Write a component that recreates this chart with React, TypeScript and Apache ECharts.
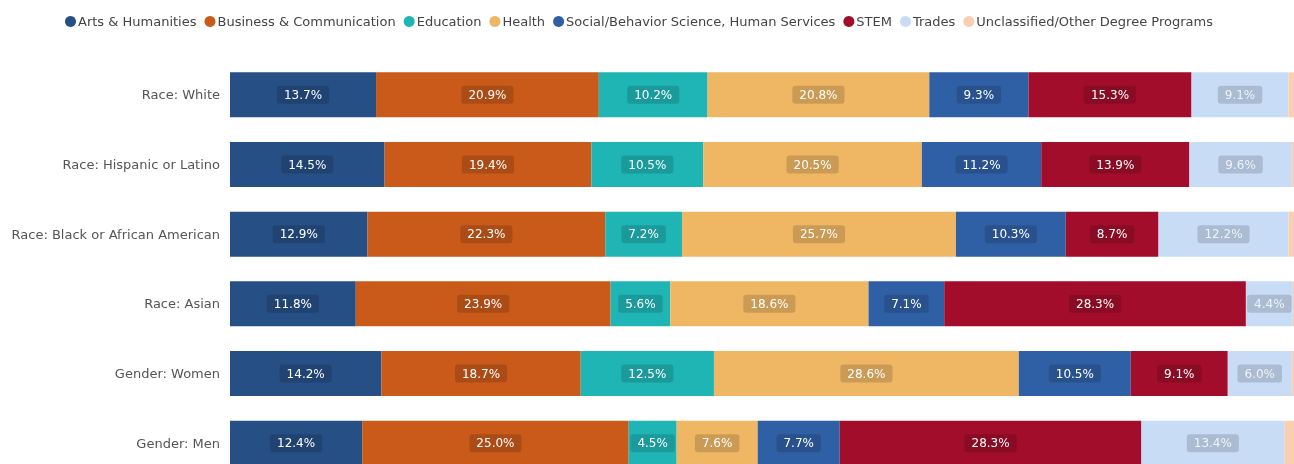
import React, { useEffect, useRef } from "react";
import * as echarts from "echarts";

const categories = [
  "Race: White",
  "Race: Hispanic or Latino",
  "Race: Black or African American",
  "Race: Asian",
  "Gender: Women",
  "Gender: Men",
];

const seriesNames = [
  "Arts & Humanities",
  "Business & Communication",
  "Education",
  "Health",
  "Social/Behavior Science, Human Services",
  "STEM",
  "Trades",
  "Unclassified/Other Degree Programs",
];

const artsHumanities = [13.7, 14.5, 12.9, 11.8, 14.2, 12.4];
const businessCommunication = [20.9, 19.4, 22.3, 23.9, 18.7, 25.0];
const education = [10.2, 10.5, 7.2, 5.6, 12.5, 4.5];
const health = [20.8, 20.5, 25.7, 18.6, 28.6, 7.6];
const socialBehavior = [9.3, 11.2, 10.3, 7.1, 10.5, 7.7];
const stem = [15.3, 13.9, 8.7, 28.3, 9.1, 28.3];
const trades = [9.1, 9.6, 12.2, 4.4, 6.0, 13.4];
const unclassified = [0.7, 0.4, 0.7, 0.3, 0.4, 1.1];

const seriesValues = [
  artsHumanities,
  businessCommunication,
  education,
  health,
  socialBehavior,
  stem,
  trades,
  unclassified,
];

const colors = [
  "#264f86",
  "#c95a1a",
  "#1fb5b5",
  "#efb664",
  "#2f60a6",
  "#a10d2b",
  "#c9dcf6",
  "#f8cfb2",
];

export default function App() {
  const ref = useRef<HTMLDivElement>(null);

  useEffect(() => {
    if (!ref.current) return;
    const chart = echarts.init(ref.current, null, { renderer: "svg" });
    const font = "DejaVu Sans";
    chart.setOption({
      animation: false,
      textStyle: { fontFamily: font },
      legend: {
        top: 10,
        left: 60,
        icon: "circle",
        itemWidth: 11,
        itemHeight: 11,
        itemGap: 8,
        textStyle: { fontFamily: font, fontSize: 13, color: "#444", padding: [0, 0, 0, -3] },
        data: seriesNames,
      },
      grid: { left: 230, right: 6, top: 60, bottom: 22, containLabel: false },
      xAxis: {
        type: "value",
        min: 0,
        max: 100,
        show: false,
      },
      yAxis: {
        type: "category",
        inverse: true,
        data: categories,
        axisLine: { show: false },
        axisTick: { show: false },
        axisLabel: { fontFamily: font, fontSize: 13, color: "#555", margin: 10 },
      },
      series: seriesNames.map((name, i) => ({
        name,
        type: "bar",
        stack: "total",
        barWidth: 45,
        color: colors[i],
        data: seriesValues[i],
        itemStyle: { color: colors[i] },
        label: {
          show: i < 7,
          position: "inside",
          formatter: (p: any) => `${Number(p.value).toFixed(1)}%`,
          color: i === 6 ? "#eef3fa" : "#ffffff",
          fontFamily: font,
          fontSize: 12,
          backgroundColor: "rgba(0,0,0,0.15)",
          padding: [3, 7],
          borderRadius: 3,
        },
        emphasis: { disabled: true },
      })),
    });
    return () => chart.dispose();
  }, []);

  return (
    <div
      ref={ref}
      style={{ position: "fixed", left: 0, top: 0, width: 1302, height: 500 }}
    />
  );
}
